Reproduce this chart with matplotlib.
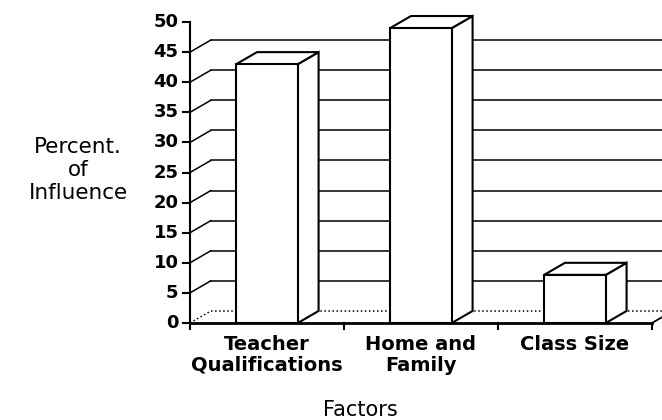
import matplotlib
matplotlib.use("Agg")
import matplotlib.pyplot as plt
from matplotlib.patches import Polygon

categories = ["Teacher\nQualifications", "Home and\nFamily", "Class Size"]
values = [43, 49, 8]
y_ticks = [0, 5, 10, 15, 20, 25, 30, 35, 40, 45, 50]

DX, DZ = 0.135, 2.0    # fake 3-D depth offset (x in categories, z in %)
HALF_W = 0.2
XMAX = 472 / 154

fig = plt.figure(figsize=(6.62, 4.2), dpi=100)
ax = fig.add_axes([190 / 662, 97 / 420, 472 / 662, 313 / 420])
ax.set_xlim(0, XMAX)
ax.set_ylim(0, 52)
ax.axis("off")

lw_grid = 1.1
lw_bar = 1.5

# back wall gridlines + diagonals from the front axis
for k in y_ticks[:-1]:
    ls = ":" if k == 0 else "-"
    ax.plot([DX, XMAX], [k + DZ, k + DZ], color="black", lw=lw_grid, ls=ls,
            zorder=1, clip_on=False)
    ax.plot([0, DX], [k, k + DZ], color="black", lw=lw_grid, ls=ls,
            zorder=1, clip_on=False)

# front y axis with ticks and labels
ax.plot([0, 0], [0, 50], color="black", lw=1.5, zorder=4, clip_on=False)
for k in y_ticks:
    ax.plot([-0.045, 0], [k, k], color="black", lw=1.5, zorder=4, clip_on=False)
    ax.text(-0.075, k, str(k), ha="right", va="center", fontsize=13,
            fontweight="heavy", family="DejaVu Sans", clip_on=False)

# floor front edge, category ticks, right edge of floor
ax.plot([0, 3], [0, 0], color="black", lw=2.0, zorder=4, clip_on=False)
ax.plot([3, 3 + DX * 0.8], [0, DZ * 0.8], color="black", lw=1.3, zorder=4,
        clip_on=False)
for i in range(4):
    ax.plot([i, i], [0, -1.0], color="black", lw=1.5, zorder=4, clip_on=False)

# bars
for i, (lab, v) in enumerate(zip(categories, values)):
    c = i + 0.5
    x0, x1 = c - HALF_W, c + HALF_W
    front = [(x0, 0), (x1, 0), (x1, v), (x0, v)]
    top = [(x0, v), (x1, v), (x1 + DX, v + DZ), (x0 + DX, v + DZ)]
    side = [(x1, 0), (x1 + DX, DZ), (x1 + DX, v + DZ), (x1, v)]
    for poly in (side, top, front):
        ax.add_patch(Polygon(poly, closed=True, facecolor="white",
                             edgecolor="black", lw=lw_bar, zorder=3,
                             joinstyle="miter"))
    ax.text(c, -2.0, lab, ha="center", va="top", fontsize=14,
            fontweight="heavy", family="DejaVu Sans", linespacing=1.1,
            multialignment="center", clip_on=False)

fig.text(78 / 662, 1 - 170 / 420, "Percent.\nof\nInfluence", ha="center",
         va="center", fontsize=15.5, family="DejaVu Sans", linespacing=1.2)
fig.text(360 / 662, 1 - 410 / 420, "Factors", ha="center", va="center",
         fontsize=15, family="DejaVu Sans")

fig.savefig("out.png", dpi=100, facecolor="white")
